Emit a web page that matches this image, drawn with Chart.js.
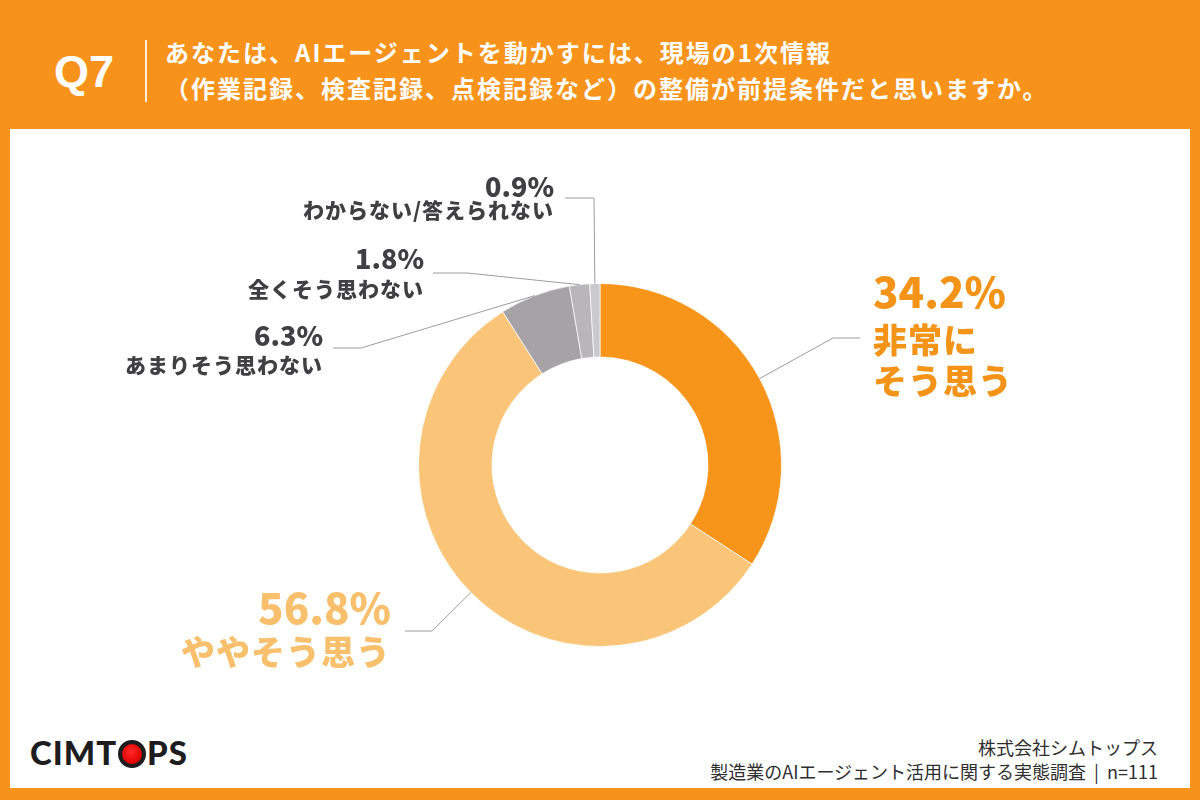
<!DOCTYPE html>
<html lang="ja">
<head>
<meta charset="utf-8">
<script src="https://cdn.jsdelivr.net/npm/chart.js@4.4.1/dist/chart.umd.min.js"></script>
<style>
  html, body { margin:0; padding:0; }
  body { width:1200px; height:800px; background:#F7931A; position:relative; overflow:hidden;
         font-family:"Noto Sans CJK JP","Noto Sans",sans-serif; }
  #panel { position:absolute; left:10px; top:129px; width:1180px; height:659px; background:#FFFFFF; }
  #q { position:absolute; left:54px; top:49px; font-family:"Liberation Sans",Arial,sans-serif; font-weight:700;
       font-size:45px; line-height:46px; color:#fff; }
  #sep { position:absolute; left:145px; top:40px; width:2px; height:62px; background:rgba(255,255,255,0.85); }
  #title { position:absolute; left:165px; top:34px; color:#fff; font-weight:700; font-size:24px;
           line-height:36px; letter-spacing:2px; white-space:nowrap; }
  #logo { position:absolute; left:30px; top:733px; font-family:"Lato","Liberation Sans",sans-serif; font-weight:900;
          font-size:33px; line-height:38px; letter-spacing:1px; color:#1d1d1f; }
  #logo .o { display:inline-block; width:20px; height:20px; border:4px solid #1d1d1f; border-radius:50%;
             background:radial-gradient(circle at 45% 40%, #ff2a2a 0%, #e00000 70%); vertical-align:-3px; margin:0 1px; }
  #foot { position:absolute; right:42px; top:735px; text-align:right; color:#2e2e2e; font-size:18px; line-height:24px;
          white-space:nowrap; }
  #c { position:absolute; left:0; top:0; }
</style>
</head>
<body>
<div id="panel"></div>
<div id="q">Q7</div>
<div id="sep"></div>
<div id="title">あなたは、AIエージェントを動かすには、現場の1次情報<br>（作業記録、検査記録、点検記録など）の整備が前提条件だと思いますか。</div>
<div id="logo">CIMT<span class="o"></span>PS</div>
<div id="foot">株式会社シムトップス<br>製造業のAIエージェント活用に関する実態調査&nbsp;&nbsp;|&nbsp;&nbsp;n=111</div>
<div style="position:absolute;left:0;top:0;width:1200px;height:800px;"><canvas id="c"></canvas></div>
<script>
// ---- data ----
const categories = ['非常にそう思う', 'ややそう思う', 'あまりそう思わない', '全くそう思わない', 'わからない/答えられない'];
const labelLines = [['非常に', 'そう思う'], ['ややそう思う'], ['あまりそう思わない'], ['全くそう思わない'], ['わからない/答えられない']];
const percentages = [34.2, 56.8, 6.3, 1.8, 0.9];

// ---- styles ----
const sliceColors = ['#F7941A', '#FBC579', '#A6A3A7', '#B8B6B9', '#CACACC'];
const labelColors = ['#F39419', '#F8BF6C', '#404042', '#404042', '#404042'];
// label layout, offsets from doughnut centre: elbow, line end, text x, text align, line centres y
const labelLayout = [
  { elbow:[233,-127], end:[260,-127], tx:273, align:'left',  ys:[-173,-125,-84], big:true },
  { elbow:[-168,166], end:[-195,166], tx:-210, align:'right', ys:[143,187], big:true },
  { elbow:[-239,-117], end:[-267,-117], tx:-278, align:'right', ys:[-129,-100], big:false },
  { elbow:[-133,-192], end:[-167,-192], tx:-177, align:'right', ys:[-206,-176], big:false },
  { elbow:[-6,-267],  end:[-35,-267],  tx:-47,  align:'right', ys:[-278,-255], big:false }
];

const leaderPlugin = {
  id: 'leaders',
  afterDatasetsDraw(chart) {
    const ctx = chart.ctx;
    const meta = chart.getDatasetMeta(0);
    meta.data.forEach((arc, i) => {
      const p = arc.getProps(['x','y','startAngle','endAngle','outerRadius'], true);
      const mid = (p.startAngle + p.endAngle) / 2;
      const ax = p.x + Math.cos(mid) * p.outerRadius;
      const ay = p.y + Math.sin(mid) * p.outerRadius;
      const L = labelLayout[i];
      ctx.save();
      ctx.strokeStyle = '#9C9C9E';
      ctx.lineWidth = 1;
      ctx.beginPath();
      ctx.moveTo(ax, ay);
      ctx.lineTo(p.x + L.elbow[0], p.y + L.elbow[1]);
      ctx.lineTo(p.x + L.end[0], p.y + L.end[1]);
      ctx.stroke();

      ctx.fillStyle = labelColors[i];
      ctx.textAlign = L.align;
      ctx.textBaseline = 'middle';
      const tx = p.x + L.tx;
      const pctText = percentages[i].toFixed(1) + '%';
      const lines = [pctText].concat(labelLines[i]);
      lines.forEach((t, k) => {
        let size;
        if (k === 0) size = L.big ? 42 : 27;
        else size = L.big ? 34 : 21;
        ctx.font = '900 ' + size + 'px "Noto Sans CJK JP", "Noto Sans", sans-serif';
        ctx.letterSpacing = (k === 0 ? '0px' : '1px');
        let x = tx;
        if (L.align === 'right') x += 1;
        ctx.fillText(t, x, p.y + L.ys[k]);
      });
      ctx.restore();
    });
  }
};

new Chart(document.getElementById('c'), {
  type: 'doughnut',
  data: {
    labels: categories,
    datasets: [{
      data: percentages,
      backgroundColor: sliceColors,
      borderColor: 'rgba(255,255,255,0.7)',
      borderWidth: 1
    }]
  },
  options: {
    responsive: true,
    maintainAspectRatio: false,
    animation: false,
    cutout: '59.5%',
    layout: { padding: { top: 283, bottom: 153, left: 0, right: 0 } },
    plugins: { legend: { display: false }, tooltip: { enabled: false } }
  },
  plugins: [leaderPlugin]
});
</script>
</body>
</html>
